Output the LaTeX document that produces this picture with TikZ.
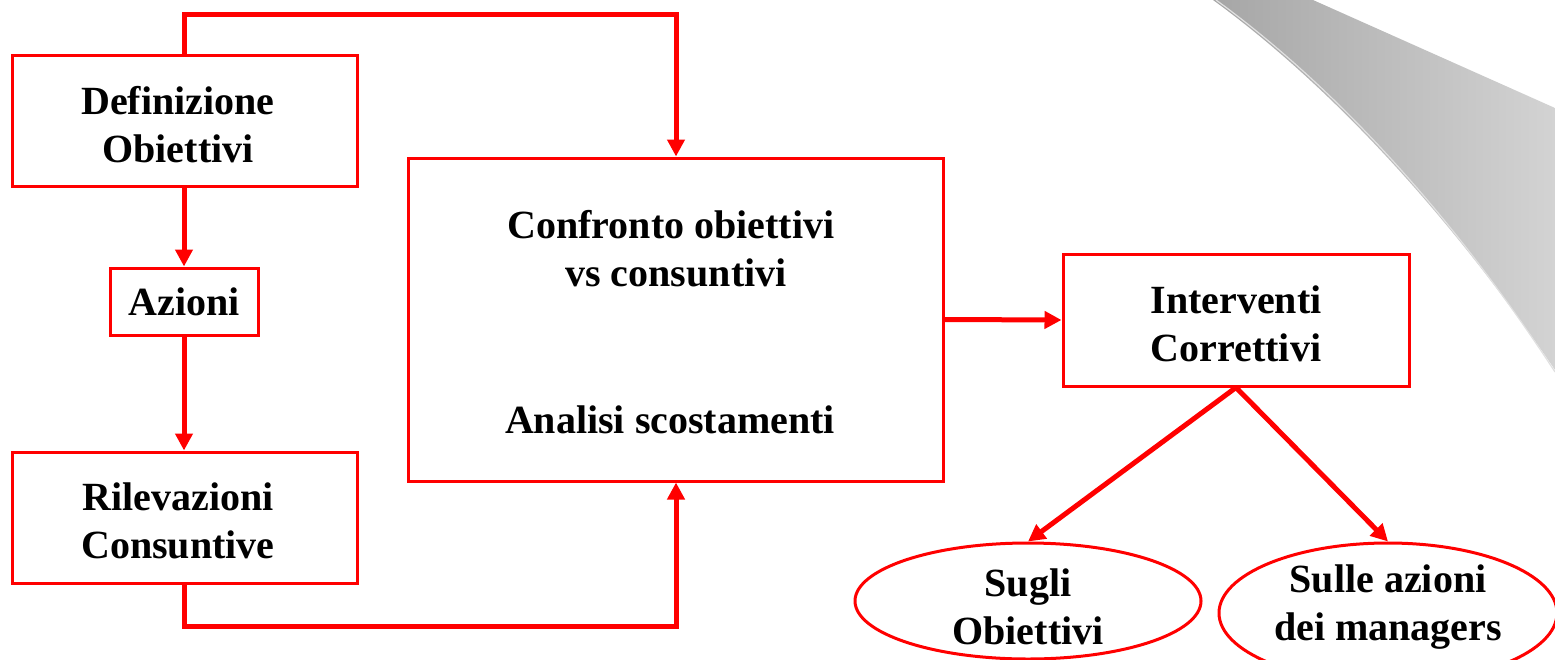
\documentclass[tikz,border=0pt]{standalone}
\usepackage{fontspec}
\setmainfont{Liberation Serif}
\usetikzlibrary{arrows.meta,shapes.geometric}
\definecolor{boxred}{HTML}{FF0000}
\definecolor{curlA}{HTML}{A6A6A6}
\definecolor{curlB}{HTML}{D3D3D3}
\tikzset{
  lbl/.style={font=\fontsize{40}{48}\selectfont\bfseries, align=center, text=black},
  stepbox/.style={draw=boxred, line width=3pt, rectangle, inner sep=0pt},
  oval/.style={draw=boxred, line width=3pt, ellipse, inner sep=0pt, lbl},
  flow/.style={draw=boxred, line width=5pt, -{Triangle[length=17pt,width=17pt]}},
}
\begin{document}
\begin{tikzpicture}[x=1pt,y=-1pt]
\useasboundingbox (0,0) rectangle (1555,659);

% curled page corner
\shade[left color=curlA, right color=curlB]
  (1213,0) .. controls (1330,85) and (1450,215) .. (1555,370)
  -- (1555,108) -- (1313,0) -- cycle;
\draw[white!88!black, line width=1.2pt]
  (1216,0) .. controls (1333,85) and (1453,215) .. (1555,372);

% boxes
\node[stepbox, minimum width=345pt, minimum height=131pt] (def) at (184.5,120.5) {};
\node[lbl] (deft) at (178,125) {Definizione\\Obiettivi};
\node[stepbox, minimum width=148pt, minimum height=67pt] (az) at (184,301.5) {};
\node[lbl] (azt) at (184,302) {Azioni};
\node[stepbox, minimum width=345pt, minimum height=131pt] (ril) at (184.5,517.5) {};
\node[lbl] (rilt) at (178,521) {Rilevazioni\\Consuntive};
\node[stepbox, minimum width=535pt, minimum height=323pt] (conf) at (675.5,319.5) {};
\node[lbl] (conft) at (671,249) {Confronto obiettivi\\\ vs consuntivi};
\node[lbl] (anal) at (670,420) {Analisi scostamenti};
\node[stepbox, minimum width=346pt, minimum height=132pt] (int) at (1236,320) {};
\node[lbl] (intt) at (1236,324) {Interventi\\Correttivi};

% outcome ovals
\node[oval, minimum width=346pt, minimum height=116pt] (ob) at (1028,601) {};
\node[lbl] (obt) at (1028,607) {Sugli\\Obiettivi};
\node[oval, minimum width=338pt, minimum height=140pt] (man) at (1388,613) {};
\node[lbl] (mant) at (1388,607) {Sulle azioni\\dei managers};

% connectors
\coordinate (topl) at (184,14);
\coordinate (topr) at (676,14);
\coordinate (botl) at (184,626);
\coordinate (botr) at (676,626);
\draw[flow] (def.north -| topl) -- (topl) -- (topr) -- (conf.north -| topr);
\draw[flow] (def.south -| az.north) -- (az.north);
\draw[flow] (az.south) -- (ril.north -| az.south);
\draw[flow] (ril.south -| botl) -- (botl) -- (botr) -- (conf.south -| botr);
\draw[flow] (conf.east) -- (int.west);
\draw[flow] (int.south) -- (ob.north);
\draw[flow] (int.south) -- (man.north);
\end{tikzpicture}
\end{document}
